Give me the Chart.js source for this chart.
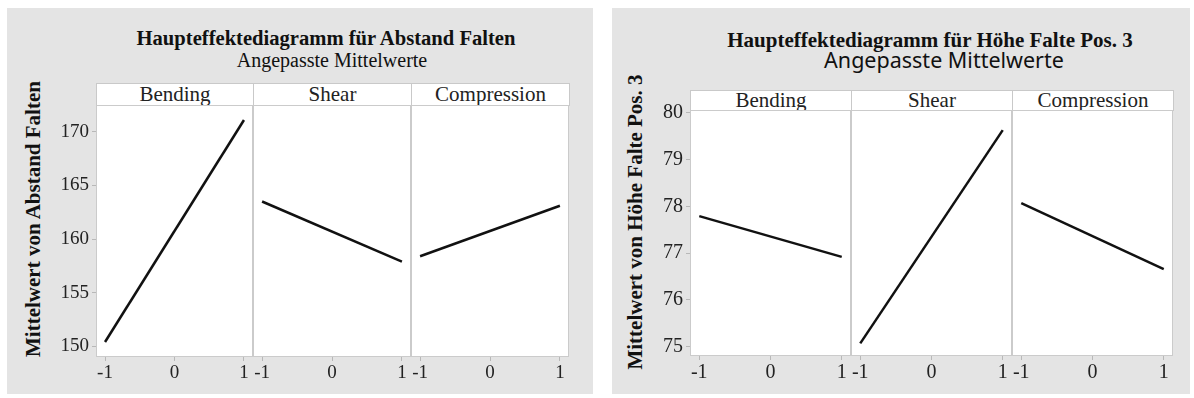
<!DOCTYPE html>
<html>
<head>
<meta charset="utf-8">
<script src="https://cdn.jsdelivr.net/npm/chart.js@4.4.1/dist/chart.umd.min.js"></script>
<style>
html,body{margin:0;padding:0;background:#fff;}
#page{position:relative;width:1194px;height:398px;overflow:hidden;font-family:"Liberation Serif",serif;color:#111;}
.bg{position:absolute;background:#e4e4e4;}
.t{position:absolute;white-space:nowrap;line-height:1;transform:translateX(-50%);}
.strip{position:absolute;box-sizing:border-box;background:#fff;border:1px solid #c9c9c9;text-align:center;font-size:21px;color:#222;}
.ytitle{position:absolute;white-space:nowrap;font-weight:bold;line-height:1;transform:translate(-50%,-50%) rotate(-90deg);}
canvas{position:absolute;}
</style>
</head>
<body>
<div id="page"></div>
<script>
'use strict';
// factor levels and fitted means
var levels = [-1, 1];
var factors = ['Bending', 'Shear', 'Compression'];
var xTicks = [-1, 0, 1];

var abstandBending = [150.4, 171.1];
var abstandShear = [163.5, 157.9];
var abstandCompression = [158.4, 163.1];
var abstandTicks = [150, 155, 160, 165, 170];

var hoeheBending = [77.79, 76.92];
var hoeheShear = [75.07, 79.63];
var hoeheCompression = [78.07, 76.66];
var hoeheTicks = [75, 76, 77, 78, 79, 80];

var sides = [{
    title: 'Haupteffektediagramm für Abstand Falten',
    sub: 'Angepasste Mittelwerte',
    yTitle: 'Mittelwert von Abstand Falten',
    series: [abstandBending, abstandShear, abstandCompression],
    ticks: abstandTicks, min: 149, max: 172.5,
    bg: [7, 8, 586, 386], edges: [96, 253, 411, 569], stripTop: 83, top: 105, bottom: 357,
    titleX: 326, titleY: 28, titleSize: 20.6,
    subX: 332, subY: 50, subFamily: '"Liberation Serif", serif', subSize: 20,
    yTitleX: 33, yTitleY: 219, yTitleSize: 21, tickSize: 19
}, {
    title: 'Haupteffektediagramm für Höhe Falte Pos. 3',
    sub: 'Angepasste Mittelwerte',
    yTitle: 'Mittelwert von Höhe Falte Pos. 3',
    series: [hoeheBending, hoeheShear, hoeheCompression],
    ticks: hoeheTicks, min: 74.8, max: 80.06,
    bg: [612, 8, 578, 386], edges: [690, 851, 1012, 1173], stripTop: 90, top: 110, bottom: 356,
    titleX: 930, titleY: 30, titleSize: 21,
    subX: 944, subY: 49, subFamily: '"Noto Sans", sans-serif', subSize: 21.5,
    yTitleX: 635, yTitleY: 222, yTitleSize: 21, tickSize: 20
}];

var page = document.getElementById('page');
var PAD_TOP = 14;

function el(cls, css, text)
{
    var d = document.createElement('div');
    d.className = cls;
    for (var k in css) {
        d.style[k] = css[k];
    }
    if (text) {
        d.textContent = text;
    }
    page.appendChild(d);
    return d;
}

var frame = {
    id: 'frame',
    beforeDraw: function (c) {
        var a = c.chartArea, x = c.ctx;
        x.save();
        x.fillStyle = '#fff';
        x.fillRect(a.left, a.top, a.right - a.left, a.bottom - a.top);
        x.restore();
    },
    afterDraw: function (c) {
        var a = c.chartArea, x = c.ctx;
        x.save();
        x.strokeStyle = '#cbcbcb';
        x.lineWidth = 1;
        x.strokeRect(a.left + 0.5, a.top + 0.5, a.right - a.left - 1, a.bottom - a.top - 1);
        x.restore();
    }
};

function panel(s, i)
{
    var first = i === 0, yw = first ? 46 : 0;
    var left = s.edges[i] - yw, w = s.edges[i + 1] - s.edges[i] + yw, h = s.bottom - s.top + 30 + PAD_TOP;
    var c = document.createElement('canvas');
    c.width = w; c.height = h;
    c.style.left = left + 'px'; c.style.top = (s.top - PAD_TOP) + 'px';
    c.style.width = w + 'px'; c.style.height = h + 'px';
    page.appendChild(c);

    var vals = s.series[i];
    var tickFont = { family: 'Liberation Serif', size: s.tickSize };
    var grid = { drawOnChartArea: false, drawTicks: true, tickLength: 4, color: '#b8b8b8' };

    new Chart(c.getContext('2d'), {
        type: 'line',
        data: {
            datasets: [{
                data: levels.map(function (v, k) { return { x: v, y: vals[k] }; }),
                borderColor: '#111',
                borderWidth: 2.5,
                pointRadius: 0,
                tension: 0,
                fill: false
            }]
        },
        options: {
            responsive: false,
            animation: false,
            events: [],
            layout: { padding: { top: PAD_TOP, left: 0, right: 0, bottom: 0 } },
            plugins: { legend: { display: false }, tooltip: { enabled: false } },
            scales: {
                x: {
                    type: 'linear', min: -1.13, max: 1.13,
                    afterBuildTicks: function (sc) { sc.ticks = xTicks.map(function (v) { return { value: v }; }); },
                    afterFit: function (sc) { sc.height = 30; sc.paddingLeft = 0; sc.paddingRight = 0; },
                    grid: grid,
                    border: { display: false },
                    ticks: { padding: 1, color: '#222', font: tickFont, maxRotation: 0, autoSkip: false }
                },
                y: {
                    display: first, min: s.min, max: s.max,
                    afterBuildTicks: function (sc) { sc.ticks = s.ticks.map(function (v) { return { value: v }; }); },
                    afterFit: function (sc) {
                        if (first) {
                            sc.width = 46;
                        }
                        sc.paddingTop = 0; sc.paddingBottom = 0;
                    },
                    grid: grid,
                    border: { display: false },
                    ticks: { padding: 3, color: '#222', font: tickFont, autoSkip: false }
                }
            }
        },
        plugins: [frame]
    });
}

function build(s)
{
    el('bg', { left: s.bg[0] + 'px', top: s.bg[1] + 'px', width: s.bg[2] + 'px', height: s.bg[3] + 'px' });
    el('t', { left: s.titleX + 'px', top: s.titleY + 'px', fontSize: s.titleSize + 'px', fontWeight: 'bold' }, s.title);
    el('t', { left: s.subX + 'px', top: s.subY + 'px', fontFamily: s.subFamily, fontSize: s.subSize + 'px' }, s.sub);
    el('ytitle', { left: s.yTitleX + 'px', top: s.yTitleY + 'px', fontSize: s.yTitleSize + 'px' }, s.yTitle);
    factors.forEach(function (f, i) {
        var hh = s.top - s.stripTop;
        el('strip', {
            left: s.edges[i] + 'px', top: s.stripTop + 'px',
            width: (s.edges[i + 1] - s.edges[i] + 1) + 'px', height: (hh + 1) + 'px',
            lineHeight: (hh - 1) + 'px'
        }, f);
        panel(s, i);
    });
}

function init()
{
    if (!window.Chart) {
        return;
    }
    sides.forEach(build);
}

if (document.readyState === 'loading') {
    document.addEventListener('DOMContentLoaded', init);
} else {
    init();
}
</script>
</body>
</html>
